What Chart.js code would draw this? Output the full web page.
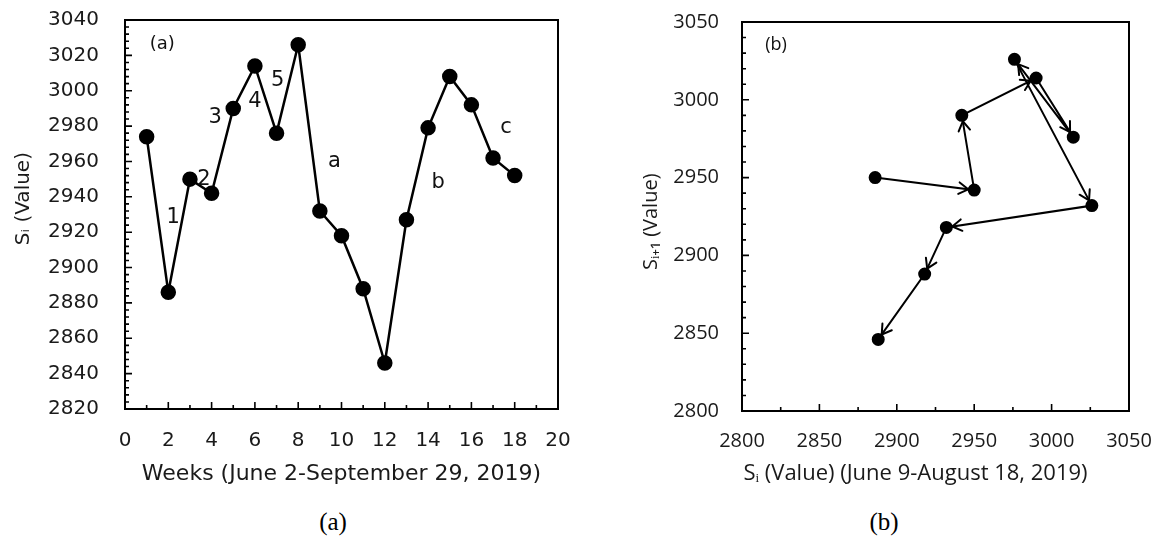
<!DOCTYPE html>
<html>
<head>
<meta charset="utf-8">
<script src="https://cdn.jsdelivr.net/npm/chart.js@4.4.0/dist/chart.umd.min.js"></script>
<style>
  body { margin: 0; background: #fff; width: 1156px; height: 544px; position: relative; overflow: hidden; }
  .box { position: absolute; top: 0; width: 578px; height: 500px; }
  .cap { position: absolute; top: 508px; font-family: 'Liberation Serif', serif; font-size: 25px; color: #000; transform: translateX(-50%); }
</style>
</head>
<body>
<div class="box" style="left:0"><canvas id="chartA"></canvas></div>
<div class="box" style="left:578px"><canvas id="chartB"></canvas></div>
<div class="cap" style="left:333px">(a)</div>
<div class="cap" style="left:884px">(b)</div>
<script>
// weekly values S_i, June 2 - September 29, 2019
const weeks = [1, 2, 3, 4, 5, 6, 7, 8, 9, 10, 11, 12, 13, 14, 15, 16, 17, 18];
const siValues = [2974, 2886, 2950, 2942, 2990, 3014, 2976, 3026, 2932, 2918, 2888, 2846, 2927, 2979, 3008, 2992, 2962, 2952];

// phase plot, S_i against S_i+1 (June 9 - August 18)
const siNow  = [2886, 2950, 2942, 2990, 3014, 2976, 3026, 2932, 2918, 2888];
const siNext = [2950, 2942, 2990, 3014, 2976, 3026, 2932, 2918, 2888, 2846];

const weekTicks = [0, 2, 4, 6, 8, 10, 12, 14, 16, 18, 20];
const valueTicksA = [2820, 2840, 2860, 2880, 2900, 2920, 2940, 2960, 2980, 3000, 3020, 3040];
const valueTicksB = [2800, 2850, 2900, 2950, 3000, 3050];

// segment labels on panel (a)
const notesA = [
    { text: '(a)', x: 1.72, y: 3026, size: 18 },
    { text: '1', x: 2.23, y: 2928 },
    { text: '2', x: 3.65, y: 2950 },
    { text: '3', x: 4.16, y: 2985 },
    { text: '4', x: 6.0, y: 2994 },
    { text: '5', x: 7.05, y: 3006 },
    { text: 'a', x: 9.67, y: 2960 },
    { text: 'b', x: 14.47, y: 2948 },
    { text: 'c', x: 17.6, y: 2979 }
];
const notesB = [
    { text: '(b)', x: 2822, y: 3035, size: 18 }
];

const fixTicks = (list) => (scale) => { scale.ticks = list.map(v => ({ value: v })); };
const noPad = (scale) => {
    scale.paddingTop = 0; scale.paddingBottom = 0;
    scale.paddingLeft = 0; scale.paddingRight = 0;
};
const fixWidth = (w) => (scale) => { scale.width = w; noPad(scale); };
const fixHeight = (h) => (scale) => { scale.height = h; noPad(scale); };
const plain = (v) => String(v);

// box round the plot area, with small ticks pointing inwards
const frameTicks = {
    id: 'frameTicks',
    beforeDatasetsDraw(chart, args, opts) {
        const { ctx, chartArea: a, scales } = chart;
        const isMajor = (v, min, major) => Math.abs((v - min) / major - Math.round((v - min) / major)) < 1e-6;
        ctx.save();
        ctx.strokeStyle = '#000';
        ctx.lineWidth = 2;
        ctx.strokeRect(a.left, a.top, a.right - a.left, a.bottom - a.top);
        ctx.lineWidth = 1.6;
        ctx.beginPath();
        const sx = scales.x, sy = scales.y;
        for (let v = sx.min; v <= sx.max + 1e-9; v += opts.xStep) {
            const px = sx.getPixelForValue(v);
            const len = isMajor(v, sx.min, opts.xMajor) ? 7 : 4;
            ctx.moveTo(px, a.bottom);
            ctx.lineTo(px, a.bottom - len);
        }
        for (let v = sy.min; v <= sy.max + 1e-9; v += opts.yStep) {
            const py = sy.getPixelForValue(v);
            const len = isMajor(v, sy.min, opts.yMajor) ? 7 : 4;
            ctx.moveTo(a.left, py);
            ctx.lineTo(a.left + len, py);
        }
        ctx.stroke();
        ctx.restore();
    }
};

const notes = {
    id: 'notes',
    afterDatasetsDraw(chart, args, opts) {
        const { ctx, scales } = chart;
        ctx.save();
        ctx.fillStyle = '#111';
        ctx.textAlign = 'center';
        ctx.textBaseline = 'middle';
        opts.items.forEach(n => {
            ctx.font = (n.size || 21) + 'px ' + opts.family;
            ctx.fillText(n.text, scales.x.getPixelForValue(n.x), scales.y.getPixelForValue(n.y));
        });
        ctx.restore();
    }
};

// open arrow heads at the end of every segment
const arrows = {
    id: 'arrows',
    afterDatasetsDraw(chart, args, opts) {
        const { ctx, scales } = chart;
        const pts = chart.data.datasets[0].data;
        ctx.save();
        ctx.strokeStyle = '#000';
        ctx.lineWidth = 2;
        ctx.lineCap = 'round';
        for (let i = 1; i < pts.length; i++) {
            const x0 = scales.x.getPixelForValue(pts[i - 1].x), y0 = scales.y.getPixelForValue(pts[i - 1].y);
            const x1 = scales.x.getPixelForValue(pts[i].x), y1 = scales.y.getPixelForValue(pts[i].y);
            const d = Math.hypot(x1 - x0, y1 - y0);
            const ux = (x1 - x0) / d, uy = (y1 - y0) / d;
            const tx = x1 - ux * opts.gap, ty = y1 - uy * opts.gap;
            ctx.beginPath();
            [-1, 1].forEach(s => {
                const ang = Math.atan2(uy, ux) + Math.PI + s * opts.spread;
                ctx.moveTo(tx, ty);
                ctx.lineTo(tx + Math.cos(ang) * opts.len, ty + Math.sin(ang) * opts.len);
            });
            ctx.stroke();
        }
        ctx.restore();
    }
};

const tickColor = '#1a1a1a';

new Chart(document.getElementById('chartA'), {
    type: 'line',
    data: {
        datasets: [{
            data: weeks.map((w, i) => ({ x: w, y: siValues[i] })),
            borderColor: '#000',
            backgroundColor: '#000',
            borderWidth: 2.5,
            pointRadius: 6.5,
            pointBackgroundColor: '#000',
            tension: 0
        }]
    },
    options: {
        responsive: true,
        maintainAspectRatio: false,
        animation: false,
        layout: { padding: { left: 0, right: 20, top: 20, bottom: 0 } },
        plugins: {
            legend: { display: false },
            tooltip: { enabled: false },
            frameTicks: { xStep: 1, xMajor: 2, yStep: 4, yMajor: 20 },
            notes: { items: notesA, family: 'DejaVu Sans' }
        },
        scales: {
            x: {
                type: 'linear',
                min: 0,
                max: 20,
                afterBuildTicks: fixTicks(weekTicks),
                afterFit: fixHeight(91),
                grid: { display: false, drawTicks: false },
                border: { display: false },
                ticks: { color: tickColor, padding: 20, maxRotation: 0, callback: plain, font: { family: 'DejaVu Sans', size: 20 } },
                title: {
                    display: true,
                    text: 'Weeks (June 2-September 29, 2019)',
                    color: tickColor,
                    padding: { top: 0, bottom: 13 },
                    font: { family: 'DejaVu Sans', size: 22 }
                }
            },
            y: {
                min: 2820,
                max: 3040,
                afterBuildTicks: fixTicks(valueTicksA),
                afterFit: fixWidth(125),
                grid: { display: false, drawTicks: false },
                border: { display: false },
                ticks: { color: tickColor, padding: 26, callback: plain, font: { family: 'DejaVu Sans', size: 20 } },
                title: {
                    display: true,
                    text: '     Sᵢ (Value)',
                    color: tickColor,
                    padding: { top: 12, bottom: 0 },
                    font: { family: 'DejaVu Sans', size: 20 }
                }
            }
        }
    },
    plugins: [frameTicks, notes]
});

new Chart(document.getElementById('chartB'), {
    type: 'scatter',
    data: {
        datasets: [{
            data: siNow.map((v, i) => ({ x: v, y: siNext[i] })),
            showLine: true,
            borderColor: '#000',
            backgroundColor: '#000',
            borderWidth: 2,
            pointRadius: 5.5,
            pointBackgroundColor: '#000',
            tension: 0
        }]
    },
    options: {
        responsive: true,
        maintainAspectRatio: false,
        animation: false,
        layout: { padding: { left: 0, right: 27, top: 22, bottom: 0 } },
        plugins: {
            legend: { display: false },
            tooltip: { enabled: false },
            frameTicks: { xStep: 25, xMajor: 50, yStep: 10, yMajor: 50 },
            notes: { items: notesB, family: 'Open Sans' },
            arrows: { gap: 6, len: 11, spread: 0.55 }
        },
        scales: {
            x: {
                type: 'linear',
                min: 2800,
                max: 3050,
                afterBuildTicks: fixTicks(valueTicksB),
                afterFit: fixHeight(89),
                grid: { display: false, drawTicks: false },
                border: { display: false },
                ticks: { color: tickColor, padding: 18, maxRotation: 0, callback: plain, font: { family: 'Open Sans', size: 20 } },
                title: {
                    display: true,
                    text: 'Sᵢ (Value) (June 9-August 18, 2019)       ',
                    color: tickColor,
                    padding: { top: 0, bottom: 13 },
                    font: { family: 'Open Sans', size: 22 }
                }
            },
            y: {
                min: 2800,
                max: 3050,
                afterBuildTicks: fixTicks(valueTicksB),
                afterFit: fixWidth(164),
                grid: { display: false, drawTicks: false },
                border: { display: false },
                ticks: { color: tickColor, padding: 23, callback: plain, font: { family: 'Open Sans', size: 20 } },
                title: {
                    display: true,
                    text: 'Sᵢ₊₁ (Value)  ',
                    color: tickColor,
                    padding: { top: 61, bottom: 0 },
                    font: { family: 'Open Sans', size: 20 }
                }
            }
        }
    },
    plugins: [frameTicks, notes, arrows]
});
</script>
</body>
</html>
